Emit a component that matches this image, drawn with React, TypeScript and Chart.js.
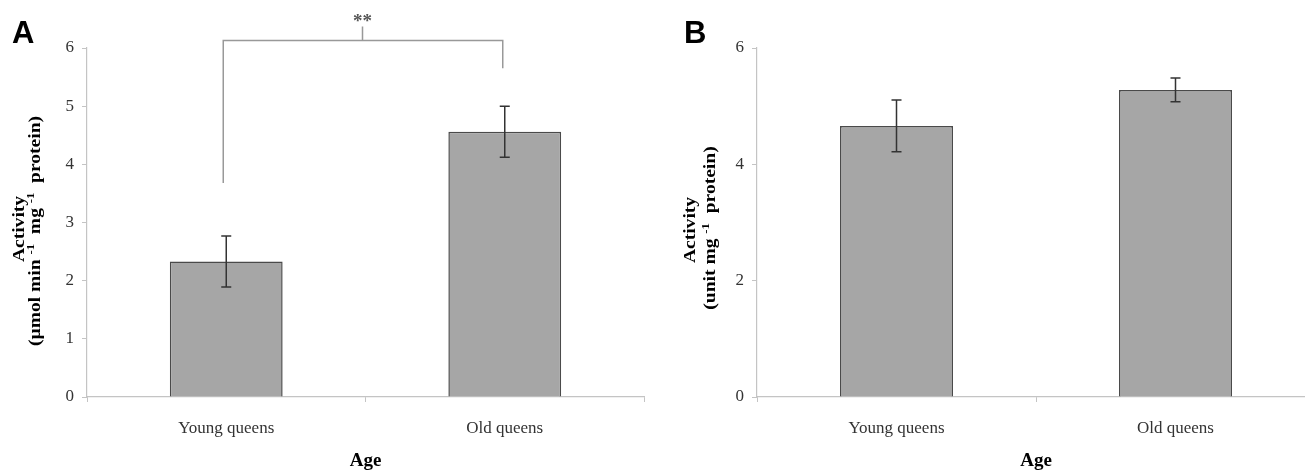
import React, { useEffect, useRef } from "react";
import { Chart, registerables } from "chart.js";

Chart.register(...registerables);

const categories = ["Young queens", "Old queens"];
const activityA = [2.33, 4.56];
const errorA = [0.44, 0.44];
const activityB = [4.66, 5.28];
const errorB = [0.445, 0.205];
const yTicksA = [0, 1, 2, 3, 4, 5, 6];
const yTicksB = [0, 2, 4, 6];
// bracket levels: left foot, right foot, bar level, top of centre tick
const bracketA = [3.68, 5.65, 6.13, 6.37];
const significanceA = "**";

const SERIF = '"Liberation Serif", "Times New Roman", serif';
const SANS = '"Liberation Sans", Arial, sans-serif';

type Seg = { text: string; sup?: boolean };

const yTitleA: Seg[][] = [
  [{ text: "Activity" }],
  [
    { text: "(µmol min " },
    { text: "-1", sup: true },
    { text: "  mg " },
    { text: "-1", sup: true },
    { text: "  protein)" },
  ],
];
const yTitleB: Seg[][] = [
  [{ text: "Activity" }],
  [{ text: "(unit mg " }, { text: "-1", sup: true }, { text: "  protein)" }],
];

function drawRich(ctx: CanvasRenderingContext2D, segs: Seg[], bx: number, cy: number, size: number, stretch: number) {
  const fN = `bold ${size}px ${SERIF}`;
  const fS = `bold ${Math.round(size * 0.62)}px ${SERIF}`;
  ctx.save();
  ctx.translate(bx, cy);
  ctx.rotate(-Math.PI / 2);
  ctx.scale(stretch, 1);
  let total = 0;
  segs.forEach((s) => {
    ctx.font = s.sup ? fS : fN;
    total += ctx.measureText(s.text).width;
  });
  let x = -total / 2;
  ctx.textBaseline = "alphabetic";
  ctx.textAlign = "left";
  ctx.fillStyle = "#000";
  segs.forEach((s) => {
    ctx.font = s.sup ? fS : fN;
    ctx.fillText(s.text, x, s.sup ? -size * 0.36 : 0);
    x += ctx.measureText(s.text).width;
  });
  ctx.restore();
}

const errorBarPlugin = {
  id: "errorBars",
  afterDatasetsDraw(chart: any, _args: any, opts: any) {
    const { ctx } = chart;
    const meta = chart.getDatasetMeta(0);
    const ys = chart.scales.y;
    const data = chart.data.datasets[0].data as number[];
    const errs: number[] = opts.errors || [];
    ctx.save();
    ctx.strokeStyle = "#333";
    ctx.lineWidth = 1.5;
    meta.data.forEach((bar: any, i: number) => {
      const x = bar.x;
      const yt = ys.getPixelForValue(data[i] + errs[i]);
      const yb = ys.getPixelForValue(data[i] - errs[i]);
      ctx.beginPath();
      ctx.moveTo(x, yt);
      ctx.lineTo(x, yb);
      ctx.moveTo(x - 5, yt);
      ctx.lineTo(x + 5, yt);
      ctx.moveTo(x - 5, yb);
      ctx.lineTo(x + 5, yb);
      ctx.stroke();
    });
    ctx.restore();
  },
};

const decorPlugin = {
  id: "decor",
  afterDraw(chart: any, _args: any, opts: any) {
    const { ctx } = chart;
    // panel letter
    ctx.save();
    ctx.font = `bold 31px ${SANS}`;
    ctx.fillStyle = "#000";
    ctx.textBaseline = "alphabetic";
    ctx.fillText(opts.letter, opts.letterX, 43);
    ctx.restore();
    // y title
    opts.title.forEach((line: Seg[], i: number) => {
      drawRich(ctx, line, opts.titleX[i], opts.titleY[i], 17, 1.15);
    });
    // bracket
    if (opts.bracket) {
      const [lb, rb, top, tickTop] = opts.bracket as number[];
      const ys = chart.scales.y;
      const meta = chart.getDatasetMeta(0);
      const x0 = meta.data[0].x;
      const x1 = meta.data[1].x;
      const xm = (x0 + x1) / 2 - 3;
      ctx.save();
      ctx.strokeStyle = "#999";
      ctx.lineWidth = 1.5;
      ctx.beginPath();
      ctx.moveTo(x0 - 3, ys.getPixelForValue(lb));
      ctx.lineTo(x0 - 3, ys.getPixelForValue(top));
      ctx.lineTo(x1 - 2, ys.getPixelForValue(top));
      ctx.lineTo(x1 - 2, ys.getPixelForValue(rb));
      ctx.moveTo(xm, ys.getPixelForValue(top));
      ctx.lineTo(xm, ys.getPixelForValue(tickTop));
      ctx.stroke();
      ctx.font = `bold 19px ${SERIF}`;
      ctx.fillStyle = "#555";
      ctx.textAlign = "center";
      ctx.textBaseline = "middle";
      ctx.fillText(opts.sigText, xm, ys.getPixelForValue(tickTop) - 4);
      ctx.restore();
    }
  },
};

function makeConfig(values: number[], errors: number[], ticks: number[], step: number, padLeft: number, padRight: number, decor: any) {
  const axisColor = "#c4c4c4";
  return {
    type: "bar" as const,
    data: {
      labels: categories,
      datasets: [
        {
          data: values,
          backgroundColor: "#a6a6a6",
          borderColor: "#4a4a4a",
          borderWidth: 1.5,
          categoryPercentage: 1,
          barPercentage: 0.405,
        },
      ],
    },
    options: {
      responsive: false,
      animation: false as const,
      layout: { padding: { left: padLeft, right: padRight, top: 48, bottom: 0 } },
      plugins: {
        legend: { display: false },
        tooltip: { enabled: false },
        errorBars: { errors },
        decor,
      },
      scales: {
        x: {
          grid: { display: true, drawOnChartArea: false, drawTicks: true, tickLength: 5, color: axisColor, offset: true },
          border: { display: true, color: axisColor, width: 1.2 },
          ticks: { color: "#333", font: { family: SERIF, size: 17 }, padding: 16 },
          title: { display: true, text: "Age", color: "#000", font: { family: SERIF, size: 19, weight: "bold" as const }, padding: { top: 0, bottom: -2 } },
          afterFit: (s: any) => {
            s.height = 73;
          },
        },
        y: {
          min: ticks[0],
          max: ticks[ticks.length - 1],
          grid: { display: true, drawOnChartArea: false, drawTicks: true, tickLength: 5, color: axisColor },
          border: { display: true, color: axisColor, width: 1.2 },
          ticks: { stepSize: step, color: "#333", font: { family: SERIF, size: 17 }, padding: 8 },
          afterFit: (s: any) => {
            s.width = 40;
          },
        },
      },
    },
    plugins: [errorBarPlugin, decorPlugin],
  };
}

function Panel({ left, width, config }: { left: number; width: number; config: any }) {
  const ref = useRef<HTMLCanvasElement | null>(null);
  useEffect(() => {
    if (!ref.current) return;
    const chart = new Chart(ref.current, config);
    return () => chart.destroy();
  }, [config]);
  return (
    <canvas
      ref={ref}
      width={width}
      height={470}
      style={{ position: "absolute", left, top: 0, width, height: 470 }}
    />
  );
}

const configA = makeConfig(activityA, errorA, yTicksA, 1, 47, 6, {
  letter: "A",
  letterX: 12,
  title: yTitleA,
  titleX: [24, 40],
  titleY: [229, 231],
  bracket: bracketA,
  sigText: significanceA,
});
const configB = makeConfig(activityB, errorB, yTicksB, 2, 67, 5, {
  letter: "B",
  letterX: 34,
  title: yTitleB,
  titleX: [45, 65],
  titleY: [230, 228],
  bracket: null,
  sigText: "",
});

export default function App() {
  return (
    <div style={{ position: "fixed", left: 0, top: 0, width: 1305, height: 470, overflow: "hidden", background: "#fff" }}>
      <Panel left={0} width={650} config={configA} />
      <Panel left={650} width={670} config={configB} />
    </div>
  );
}
